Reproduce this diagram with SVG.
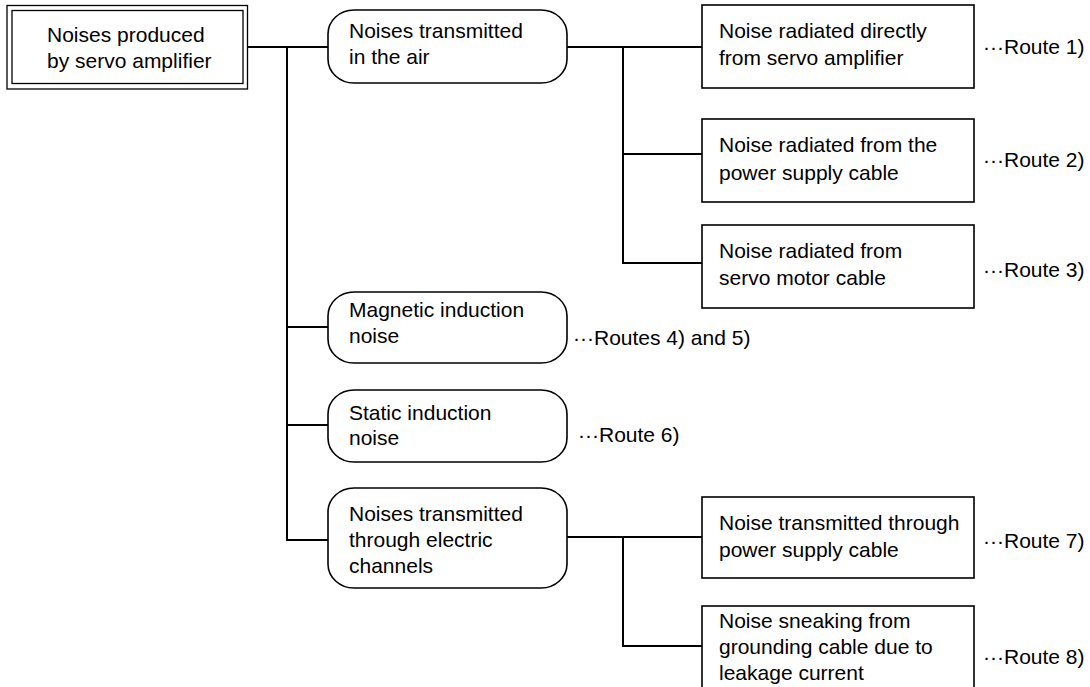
<svg xmlns="http://www.w3.org/2000/svg" width="1090" height="687" viewBox="0 0 1090 687">
<style>
text{font-family:"Liberation Sans",Arial,sans-serif;font-size:21px;fill:#000}
.box{fill:#fff;stroke:#000;stroke-width:1.6}
.thin{fill:none;stroke:#000;stroke-width:1.3}
.conn{fill:none;stroke:#000;stroke-width:2}
</style>
<rect width="1090" height="687" fill="#fff"/>
<g id="connectors">
<path class="conn" d="M248 47H328M287 47V540H328M287 327H328M287 425H328"/>
<path class="conn" d="M567 47H702M623 47V263H702M623 154H702"/>
<path class="conn" d="M567 537H702M623 537V646H702"/>
</g>
<g id="root">
<rect class="thin" x="7" y="5.5" width="240.5" height="83.5"/>
<rect class="thin" x="12" y="10.5" width="231" height="73"/>
<text x="47" y="42">Noises produced</text>
<text x="47" y="68">by servo amplifier</text>
</g>
<g id="air">
<rect class="box" x="328" y="10" width="239" height="73" rx="26" ry="24"/>
<text x="349" y="38">Noises transmitted</text>
<text x="349" y="64">in the air</text>
</g>
<g id="magnetic">
<rect class="box" x="328" y="292" width="239" height="71" rx="26" ry="24"/>
<text x="349" y="317">Magnetic induction</text>
<text x="349" y="343">noise</text>
<text x="573" y="345">···Routes 4) and 5)</text>
</g>
<g id="static">
<rect class="box" x="328" y="390" width="239" height="72" rx="26" ry="24"/>
<text x="349" y="420">Static induction</text>
<text x="349" y="445">noise</text>
<text x="578" y="442">···Route 6)</text>
</g>
<g id="electric">
<rect class="box" x="328" y="488" width="239" height="100" rx="26" ry="24"/>
<text x="349" y="521">Noises transmitted</text>
<text x="349" y="547">through electric</text>
<text x="349" y="573">channels</text>
</g>
<g id="r1">
<rect class="box" x="702" y="5" width="272" height="83"/>
<text x="719" y="38">Noise radiated directly</text>
<text x="719" y="65">from servo amplifier</text>
<text x="983" y="54">···Route 1)</text>
</g>
<g id="r2">
<rect class="box" x="702" y="119" width="272" height="83"/>
<text x="719" y="152">Noise radiated from the</text>
<text x="719" y="180">power supply cable</text>
<text x="983" y="167">···Route 2)</text>
</g>
<g id="r3">
<rect class="box" x="702" y="225" width="272" height="83"/>
<text x="719" y="258">Noise radiated from</text>
<text x="719" y="285">servo motor cable</text>
<text x="983" y="277">···Route 3)</text>
</g>
<g id="r7">
<rect class="box" x="702" y="497" width="272" height="81"/>
<text x="719" y="530">Noise transmitted through</text>
<text x="719" y="557">power supply cable</text>
<text x="983" y="548">···Route 7)</text>
</g>
<g id="r8">
<rect class="box" x="702" y="606" width="272" height="100"/>
<text x="719" y="628">Noise sneaking from</text>
<text x="719" y="654">grounding cable due to</text>
<text x="719" y="680">leakage current</text>
<text x="983" y="664">···Route 8)</text>
</g>
</svg>
